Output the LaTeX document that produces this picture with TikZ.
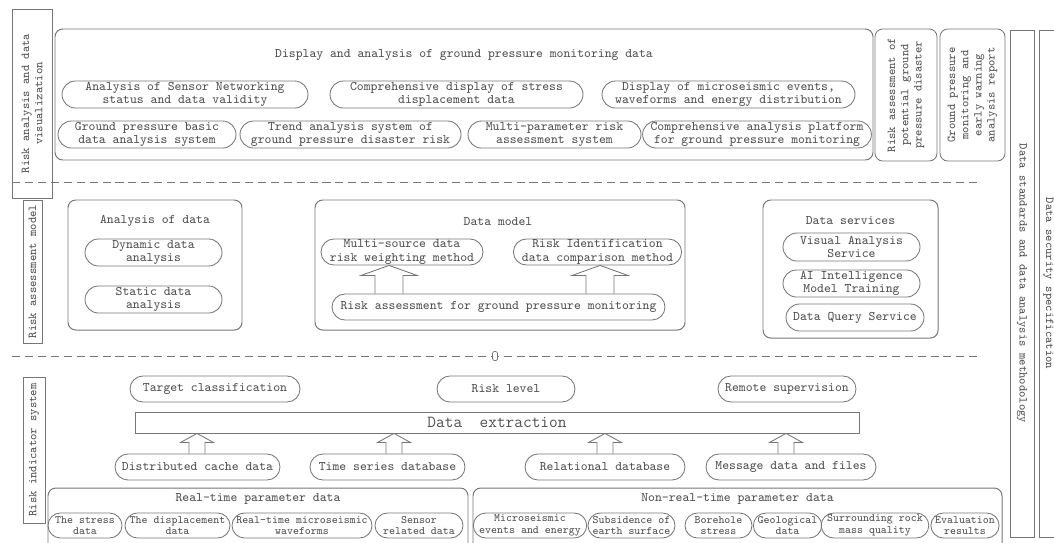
\documentclass[tikz,border=0pt]{standalone}
\usepackage{fontspec}
\usetikzlibrary{shapes.misc,calc}
\definecolor{lineColor}{RGB}{118,118,118}
\definecolor{textColor}{RGB}{80,80,80}

% hollow block arrow: lower node, upper node, x, half shaft, half head, head length
\newcommand{\hollowUp}[6]{%
  \draw[hollow] let \p1=(#3,0), \p2=(#1.north), \p3=(#2.south) in
    (\x1-#4,\y2) -- (\x1-#4,\y3-#6) -- (\x1-#5,\y3-#6) -- (\x1,\y3)
    -- (\x1+#5,\y3-#6) -- (\x1+#4,\y3-#6) -- (\x1+#4,\y2);}

\begin{document}
\begin{tikzpicture}[x=0.025cm, y=-0.025cm,
font=\ttfamily\fontsize{9.3}{9.6}\selectfont, text=textColor,
wpx/.style={minimum width=#1*0.025cm},
hpx/.style={minimum height=#1*0.025cm},
oval/.style={
    rounded rectangle, draw=lineColor, line width=0.6pt,
    inner sep=0pt, align=center},
smalloval/.style={
    oval, font=\ttfamily\fontsize{8}{8.4}\selectfont},
panel/.style={
    draw=lineColor, line width=0.7pt, rounded corners=5.5pt, inner sep=0pt},
sidelabel/.style={
    draw=lineColor, line width=0.6pt, inner sep=0pt, align=center,
    font=\ttfamily\fontsize{8.6}{9.4}\selectfont},
layerline/.style={
    draw=lineColor, line width=0.7pt, dash pattern=on 5.7pt off 3.5pt},
hollow/.style={draw=lineColor, line width=0.6pt}
]
\useasboundingbox (0,0) rectangle (1054,542);

% layer separators
\draw[layerline] (12,182) -- (982,182);
\draw[layerline] (12,356) -- (982,356);
\node[draw=lineColor, fill=white, rounded corners=1pt, inner sep=0pt,
      wpx=5, hpx=9] (layerMark) at (495,356) {};

% side labels
\node[sidelabel, rotate=90, wpx=189, hpx=40] (vizLabel) at (32,103.5)
    {Risk analysis and data\\visualization};
\node[sidelabel, rotate=90, wpx=143, hpx=19] (assessLabel) at (32.5,271.5)
    {Risk assessment model};
\node[sidelabel, rotate=90, wpx=146, hpx=22] (indicatorLabel) at (34,450)
    {Risk indicator system};
\node[sidelabel, rotate=-90, wpx=507, hpx=24] (standardsBar) at (1022,283.5)
    {Data standards and data analysis methodology};
\node[sidelabel, rotate=-90, wpx=507, hpx=19] (securityBar) at (1048.5,283.5)
    {Data security specification};

% visualization layer
\node[panel, wpx=818, hpx=131] (displayBox) at (464,94.5) {};
\node (displayTitle) at (464,55)
    {Display and analysis of ground pressure monitoring data};
\node[oval, wpx=246, hpx=27] (sensorNet) at (185,94.5)
    {Analysis of Sensor Networking\\status and data validity};
\node[oval, wpx=253, hpx=27] (stressDisp) at (456.5,94.5)
    {Comprehensive display of stress\\displacement data};
\node[oval, wpx=253, hpx=27] (microDisp) at (728.5,94.5)
    {Display of microseismic events,\\waveforms and energy distribution};
\node[oval, wpx=178, hpx=27] (basicSys) at (147,134.5)
    {Ground pressure basic\\data analysis system};
\node[oval, wpx=221, hpx=27] (trendSys) at (350.5,134.5)
    {Trend analysis system of\\ground pressure disaster risk};
\node[oval, wpx=173, hpx=27] (multiSys) at (554.5,134.5)
    {Multi-parameter risk\\assessment system};
\node[oval, wpx=226, hpx=27] (platform) at (757,134.5)
    {Comprehensive analysis platform\\for ground pressure monitoring};
\node[panel, sidelabel, rounded corners=5.5pt, rotate=90, wpx=132, hpx=62]
    (riskPotential) at (906,95)
    {Risk assessment of\\potential ground\\pressure disaster};
\node[panel, sidelabel, rounded corners=5.5pt, rotate=90, wpx=132, hpx=65]
    (warnReport) at (972.5,95)
    {Ground pressure\\monitoring and\\early warning\\analysis report};

% assessment layer
\node[panel, wpx=174, hpx=130] (analysisBox) at (155,265) {};
\node (analysisTitle) at (155,221) {Analysis of data};
\node[oval, wpx=137, hpx=27] (dynamicOval) at (153.5,252.5)
    {Dynamic data\\analysis};
\node[oval, wpx=137, hpx=27] (staticOval) at (153.5,299.5)
    {Static data\\analysis};

\node[panel, wpx=370, hpx=130] (modelBox) at (500,265) {};
\node (modelTitle) at (498,222) {Data model};
\node[oval, wpx=162, hpx=26] (multiSource) at (402,252)
    {Multi-source data\\risk weighting method};
\node[oval, wpx=165, hpx=26] (riskIdent) at (597.5,252)
    {Risk Identification\\data comparison method};
\node[oval, wpx=333, hpx=26] (riskAssess) at (498.5,307)
    {Risk assessment for ground pressure monitoring};

\node[panel, wpx=175, hpx=138] (servicesBox) at (850.5,269) {};
\node (servicesTitle) at (850.5,221) {Data services};
\node[oval, wpx=137, hpx=28] (visualOval) at (851.5,247)
    {Visual Analysis\\Service};
\node[oval, wpx=137, hpx=27] (aiOval) at (851.5,283.5)
    {AI Intelligence\\Model Training};
\node[oval, wpx=138, hpx=27] (queryOval) at (855,317.5)
    {Data Query Service};

\foreach \lo/\up/\xx in {riskAssess/multiSource/389, riskAssess/riskIdent/600}
    \hollowUp{\lo}{\up}{\xx}{0.35cm}{0.7cm}{0.25cm};

% indicator layer
\node[oval, wpx=170, hpx=26] (targetOval) at (215,389) {Target classification};
\node[oval, wpx=138, hpx=26] (levelOval) at (506,389) {Risk level};
\node[oval, wpx=138, hpx=26] (remoteOval) at (787,389) {Remote supervision};

\node[draw=lineColor, line width=0.6pt, inner sep=0pt, wpx=724, hpx=21,
      font=\ttfamily\fontsize{12}{13}\selectfont]
    (extractBar) at (497,422.5) {Data\ \ extraction};

\node[oval, wpx=165, hpx=26] (cacheOval) at (197.5,467) {Distributed cache data};
\node[oval, wpx=155, hpx=26] (seriesOval) at (387.5,467) {Time series database};
\node[oval, wpx=160, hpx=26] (relationalOval) at (605,467) {Relational database};
\node[oval, wpx=170, hpx=26] (messageOval) at (791,467) {Message data and files};

\foreach \lo/\xx in {cacheOval/197, seriesOval/394, relationalOval/605, messageOval/786}
    \hollowUp{\lo}{extractBar}{\xx}{0.2cm}{0.41cm}{0.225cm};

\node[panel, wpx=420, hpx=80] (realtimeBox) at (258,528) {};
\node (realtimeTitle) at (258,499) {Real-time parameter data};
\node[smalloval, wpx=74, hpx=25] (stressData) at (85,525.5) {The stress\\data};
\node[smalloval, wpx=105, hpx=25] (dispData) at (177.5,525.5)
    {The displacement\\data};
\node[smalloval, wpx=140, hpx=25] (microWave) at (302,525.5)
    {Real-time microseismic\\waveforms};
\node[smalloval, wpx=88, hpx=25] (sensorData) at (419,525.5)
    {Sensor\\related data};

\node[panel, wpx=529, hpx=80] (nonrealBox) at (737.5,528) {};
\node (nonrealTitle) at (737.5,499) {Non-real-time parameter data};
\node[smalloval, wpx=106, hpx=25] (microEvents) at (530,525.5)
    {Microseismic\\events and energy};
\node[smalloval, wpx=87, hpx=25] (subsidence) at (631.5,525.5)
    {Subsidence of\\earth surface};
\node[smalloval, wpx=67, hpx=25] (borehole) at (718.5,525.5)
    {Borehole\\stress};
\node[smalloval, wpx=65, hpx=25] (geological) at (787.5,525.5)
    {Geological\\data};
\node[smalloval, wpx=106, hpx=25] (surrounding) at (875,525.5)
    {Surrounding rock\\mass quality};
\node[smalloval, wpx=66, hpx=25] (evaluation) at (965,525.5)
    {Evaluation\\results};

\end{tikzpicture}
\end{document}
